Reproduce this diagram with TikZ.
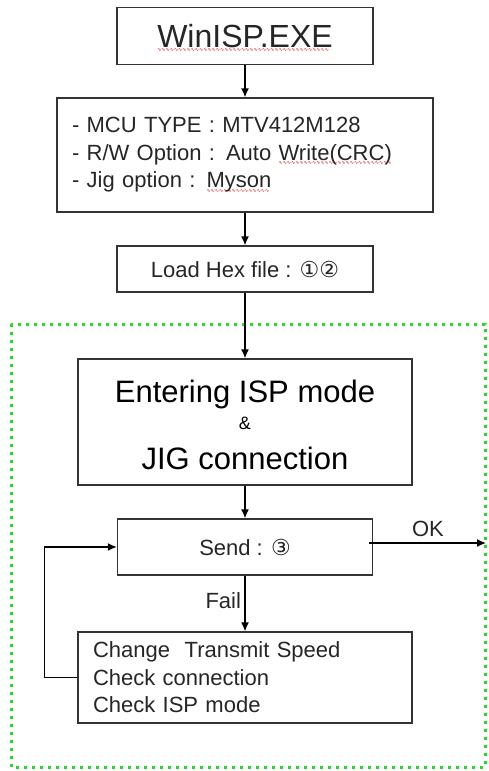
\documentclass[tikz,border=0pt]{standalone}
\usepackage{fontspec}
\setmainfont{Liberation Sans}
\newfontfamily\circfont{DejaVu Sans}
\usetikzlibrary{arrows.meta}

\definecolor{ispgreen}{RGB}{40,215,40}

\newcommand\spellwave[1]{\setbox0\hbox{#1}\rlap{\raisebox{-4.5pt}[0pt][0pt]{\color{red!85!black}\circfont\fontsize{5}{5}\selectfont\leaders\hbox{∿}\hskip\wd0}}\box0}

\tikzset{
  box/.style={draw=black!80,line width=1.3pt,fill=white,inner sep=0pt,text=black!85},
  flow/.style={-{Latex[length=9pt,width=8pt]},line width=1.4pt},
  ispframe/.style={draw=ispgreen,line width=3pt,dash pattern=on 3pt off 5pt},
  txt/.style={text=black!85,font=\fontsize{22}{27.5}\selectfont}
}

\begin{document}
\begin{tikzpicture}[x=1pt,y=-1pt]
\useasboundingbox (0,0) rectangle (488,771);

\def\cx{245}

\draw[ispframe] (11,324) rectangle (485,767);

\node[box,minimum width=256pt,minimum height=57pt,font=\fontsize{32}{38}\selectfont] (win) at (\cx,36) {\spellwave{WinISP.EXE}};

\node[box,txt,minimum width=376pt,minimum height=114pt,text width=346pt,align=left] (opts) at (\cx,155)
  {- MCU TYPE : MTV412M128\\- R/W Option : Auto \spellwave{Write(CRC)}\\- Jig option : \spellwave{Myson}};

\node[box,txt,minimum width=256pt,minimum height=46pt] (load) at (\cx,269) {Load Hex file : {\circfont ①②}};

\node[box,minimum width=334pt,minimum height=126pt] (isp) at (\cx,422) {};
\node[anchor=base,font=\fontsize{31}{31}\selectfont] (isptop) at (\cx,402) {Entering ISP mode};
\node[anchor=base,font=\fontsize{18}{18}\selectfont] (ispamp) at (\cx,429) {\&};
\node[anchor=base,font=\fontsize{31}{31}\selectfont] (ispbot) at (\cx,469) {JIG connection};

\node[box,txt,minimum width=255pt,minimum height=56pt] (send) at (\cx,547) {Send : {\circfont ③}};

\node[box,txt,minimum width=334pt,minimum height=91pt,text width=304pt,align=left] (fix) at (\cx,677.5)
  {Change\ \ Transmit Speed\\Check connection\\Check ISP mode};

\draw[flow] (win) -- (opts);
\draw[flow] (opts) -- (load);
\draw[flow] (load) -- (isp);
\draw[flow] (isp) -- (send);
\draw[flow] (send) -- node[txt,left,pos=0.44] (faillbl) {Fail} (fix);
\draw[flow] (fix.west) -- ++(-33,0) |- (send.west);

\coordinate (okend) at (486,543);
\draw[flow] ([xshift=-4pt,yshift=4pt]send.east) -- (okend);
\node[txt] (oklbl) at (428,529) {OK};

\end{tikzpicture}
\end{document}
